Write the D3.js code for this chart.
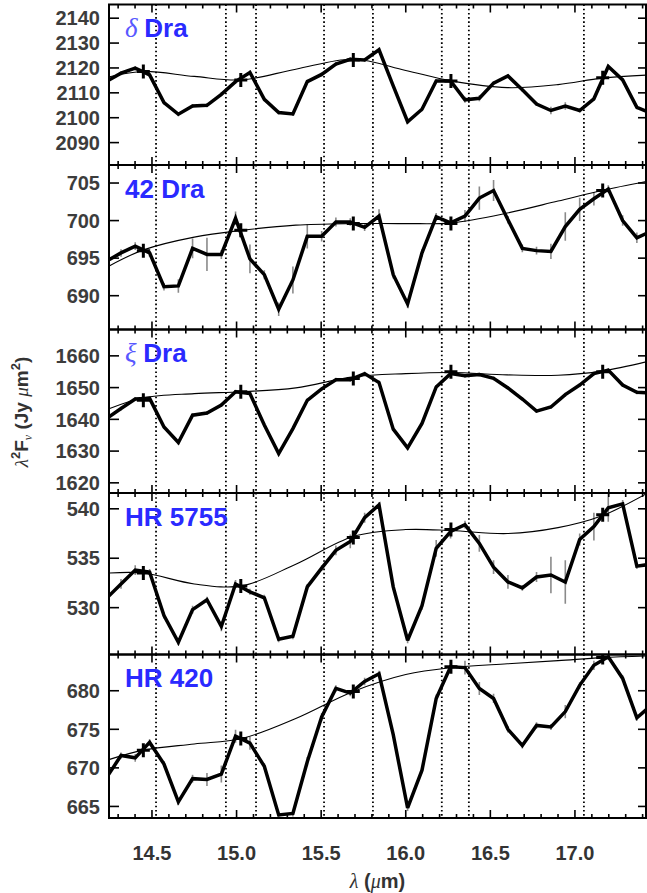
<!DOCTYPE html>
<html><head><meta charset="utf-8">
<script src="https://cdn.jsdelivr.net/npm/d3@7"></script>
<style>body{margin:0;background:#fff}</style>
</head><body>
<svg id="c" width="647" height="893" xmlns="http://www.w3.org/2000/svg"></svg>
<script>
// ---------------- data ----------------
const wavelength = [14.232,14.317,14.401,14.486,14.571,14.656,14.740,14.825,14.910,14.994,
  15.079,15.164,15.249,15.333,15.418,15.503,15.587,15.672,15.757,15.842,15.926,16.011,
  16.096,16.180,16.265,16.350,16.435,16.519,16.604,16.689,16.773,16.858,16.943,17.028,
  17.112,17.197,17.282,17.366,17.451];

const fluxDeltaDra = [2114.6,2117.9,2119.9,2117.2,2106.1,2101.4,2104.7,2105.0,2109.4,2114.5,
  2118.2,2107.4,2102.1,2101.5,2114.5,2117.4,2121.6,2123.5,2123.2,2127.3,2112.8,2098.4,
  2103.4,2114.8,2114.8,2107.2,2107.8,2113.9,2116.8,2111.2,2105.5,2102.9,2104.7,2102.9,
  2107.6,2120.6,2115.2,2104.2,2101.8];
const errDeltaDra = [0.8,0.8,0.8,0.8,0.8,0.8,0.8,0.8,0.8,0.8,0.8,0.8,0.8,0.8,0.8,0.8,0.8,0.8,
  0.8,0.8,0.8,0.8,0.8,0.8,0.8,1.2,1.2,0.8,0.8,0.8,0.8,1.5,1.5,0.8,0.8,0.8,0.8,0.8,0.8];

const flux42Dra = [694.6,695.7,696.6,695.7,691.2,691.3,696.3,695.5,695.5,700.3,694.9,692.8,
  688.2,692.1,697.9,697.9,699.8,699.8,699.1,700.6,692.8,688.9,695.7,700.5,699.7,700.6,
  703.0,704.0,700.1,696.3,696.0,695.9,699.2,701.5,702.9,704.2,700.0,697.7,698.6];
const err42Dra = [0.5,0.5,0.5,0.5,0.5,0.9,1.3,2.2,0.6,0.9,1.9,0.6,0.9,1.8,1.6,0.7,0.6,0.5,
  0.5,0.9,0.5,0.5,0.5,0.5,0.5,0.8,1.55,1.4,0.5,0.5,0.5,1.0,1.9,1.55,0.9,0.5,0.7,0.7,0.6];

const fluxXiDra = [1640.3,1643.4,1646.4,1646.6,1637.6,1632.7,1641.3,1642.0,1644.5,1648.7,
  1648.1,1638.2,1629.2,1637.1,1646.0,1649.6,1652.5,1652.5,1654.4,1651.6,1636.9,1631.0,
  1638.7,1650.2,1654.4,1653.7,1654.1,1652.9,1649.9,1646.4,1642.6,1643.9,1647.8,1650.8,
  1654.4,1655.5,1650.8,1648.5,1648.3];
const errXiDra = [0.6,0.6,0.6,0.6,0.6,0.6,0.6,0.6,0.6,0.6,0.6,0.6,0.6,0.6,0.6,0.6,0.6,0.6,
  0.6,0.6,0.6,0.6,0.6,0.6,0.6,0.6,0.6,0.6,0.6,0.6,0.6,0.6,0.6,0.6,0.6,0.6,0.6,0.6,0.6];

const fluxHR5755 = [530.95,532.4,533.8,533.6,529.2,526.5,529.8,530.8,528.1,532.4,531.6,
  531.0,526.8,527.1,532.1,534.0,535.8,536.7,539.1,540.4,532.1,526.7,530.2,536.0,537.7,
  538.4,536.5,534.1,532.6,532.0,533.1,533.3,532.6,536.9,538.2,540.1,540.5,534.2,534.4];
const errHR5755 = [0.3,0.5,0.5,0.3,0.3,0.3,0.4,0.3,0.5,0.4,0.3,0.3,0.3,0.3,0.3,0.3,0.5,0.7,
  0.5,0.3,0.3,0.3,0.4,0.85,0.7,0.4,0.85,0.7,0.7,0.3,0.5,1.85,2.2,0.6,1.4,1.4,0.4,0.3,0.3];

const fluxHR420 = [668.75,671.6,671.3,673.3,670.5,665.6,668.6,668.5,669.2,674.1,673.2,
  670.2,663.9,664.1,670.8,676.6,680.3,679.7,681.2,682.2,674.3,664.8,669.7,679.0,683.1,
  683.0,680.3,679.0,675.0,672.9,675.5,675.3,677.3,680.7,683.3,684.4,681.6,676.5,678.1];
const errHR420 = [0.4,0.4,0.5,0.4,0.4,0.4,0.5,0.85,1.1,0.85,0.85,0.4,0.4,0.4,0.6,0.5,0.4,
  0.4,0.5,0.4,0.4,0.4,0.4,0.5,0.6,0.9,0.85,0.6,0.4,0.4,0.4,0.4,0.85,0.4,0.6,0.4,0.4,0.4,0.4];

// continuum anchor points (crosses)
const crossWavelength = [14.449, 15.025, 15.690, 16.267, 17.164];
const crossDeltaDra = [2118.6, 2115.2, 2123.2, 2114.8, 2116.1];
const cross42Dra    = [696.0, 698.7, 699.6, 699.6, 704.0];
const crossXiDra    = [1646.0, 1648.7, 1652.9, 1655.0, 1655.0];
const crossHR5755   = [533.5, 532.2, 537.1, 537.9, 539.4];
const crossHR420    = [672.3, 673.8, 679.9, 683.1, 684.3];

// continuum (spline) samples
const contWavelength = [14.25, 14.45, 14.75, 15.03, 15.35, 15.69, 16.0, 16.27, 16.6, 16.9, 17.16, 17.42];
const contDeltaDra = [2116.5, 2118.6, 2116.6, 2115.2, 2119.5, 2123.5, 2119.0, 2114.8, 2112.1, 2113.3, 2115.9, 2117.1];
const cont42Dra    = [694.0, 696.1, 697.8, 698.7, 699.4, 699.6, 699.6, 699.7, 701.0, 702.6, 704.0, 705.2];
const contXiDra    = [1643.4, 1646.8, 1648.1, 1648.7, 1649.9, 1653.4, 1654.4, 1654.75, 1654.0, 1653.9, 1655.2, 1658.1];
const contHR5755   = [533.5, 533.5, 532.4, 532.2, 534.4, 537.2, 537.9, 537.8, 537.5, 538.1, 539.3, 541.5];
const contHR420    = [671.1, 672.3, 673.1, 673.8, 676.4, 679.9, 682.1, 683.0, 683.5, 683.9, 684.3, 684.5];

// marked feature wavelengths (dotted lines)
const featureWavelength = [14.524, 14.937, 15.115, 15.517, 15.806, 16.213, 16.373, 17.053];

// panel labels and axes
const labelPrefix = ["δ", "", "ξ", "", ""];
const labelMain = ["Dra", "42 Dra", "Dra", "HR 5755", "HR 420"];
const yDomainDeltaDra = [2081, 2145.5];
const yDomain42Dra = [685.5, 707.4];
const yDomainXiDra = [1616.8, 1668.3];
const yDomainHR5755 = [525.26, 541.6];
const yDomainHR420 = [663.5, 684.7];
const yTicksDeltaDra = [2090, 2100, 2110, 2120, 2130, 2140];
const yTicks42Dra = [690, 695, 700, 705];
const yTicksXiDra = [1620, 1630, 1640, 1650, 1660];
const yTicksHR5755 = [530, 535, 540];
const yTicksHR420 = [665, 670, 675, 680];
const xDomain = [14.246, 17.42];
const xMajorTicks = [14.5, 15.0, 15.5, 16.0, 16.5, 17.0];
const xMinorTicks = [14.3,14.4,14.6,14.7,14.8,14.9,15.1,15.2,15.3,15.4,15.6,15.7,15.8,15.9,
  16.1,16.2,16.3,16.4,16.6,16.7,16.8,16.9,17.1,17.2,17.3,17.4];

// ---------------- build ----------------
const panels = [
  {flux: fluxDeltaDra, err: errDeltaDra, cross: crossDeltaDra, cont: contDeltaDra, dom: yDomainDeltaDra, ticks: yTicksDeltaDra},
  {flux: flux42Dra, err: err42Dra, cross: cross42Dra, cont: cont42Dra, dom: yDomain42Dra, ticks: yTicks42Dra},
  {flux: fluxXiDra, err: errXiDra, cross: crossXiDra, cont: contXiDra, dom: yDomainXiDra, ticks: yTicksXiDra},
  {flux: fluxHR5755, err: errHR5755, cross: crossHR5755, cont: contHR5755, dom: yDomainHR5755, ticks: yTicksHR5755},
  {flux: fluxHR420, err: errHR420, cross: crossHR420, cont: contHR420, dom: yDomainHR420, ticks: yTicksHR420}
];
panels.forEach((p, i) => { p.prefix = labelPrefix[i]; p.main = labelMain[i]; });

const svg = d3.select("#c");
const L = 109, R = 646;
const panelEdges = [4.5, 165, 329.5, 493, 654.5, 818];
const x = d3.scaleLinear().domain(xDomain).range([L, R]);
const sans = "'Liberation Sans', Arial, Helvetica, sans-serif";
const serif = "'Liberation Serif', 'DejaVu Serif', serif";

panels.forEach((p, pi) => {
  const top = panelEdges[pi], bot = panelEdges[pi + 1];
  const y = d3.scaleLinear().domain(p.dom).range([bot, top]);
  const g = svg.append("g");
  const clipId = "clip" + pi;
  svg.append("clipPath").attr("id", clipId).append("rect")
    .attr("x", L).attr("y", top).attr("width", R - L).attr("height", bot - top);
  const cg = g.append("g").attr("clip-path", `url(#${clipId})`);

  // dotted feature lines
  cg.selectAll("line.feat").data(featureWavelength).enter().append("line")
    .attr("x1", d => x(d)).attr("x2", d => x(d)).attr("y1", top).attr("y2", bot)
    .attr("stroke", "#000").attr("stroke-width", 1.8).attr("stroke-dasharray", "1.6,2.6");

  // error bars
  cg.selectAll("line.err").data(wavelength).enter().append("line")
    .attr("x1", d => x(d)).attr("x2", d => x(d))
    .attr("y1", (d, i) => y(p.flux[i] - p.err[i])).attr("y2", (d, i) => y(p.flux[i] + p.err[i]))
    .attr("stroke", "#8a8a8a").attr("stroke-width", 1.6);

  // continuum
  const contLine = d3.line().x(d => x(d[0])).y(d => y(d[1])).curve(d3.curveCatmullRom.alpha(0.5));
  cg.append("path").datum(contWavelength.map((w, i) => [w, p.cont[i]]))
    .attr("d", contLine).attr("fill", "none").attr("stroke", "#000").attr("stroke-width", 1.1);

  // spectrum
  const specLine = d3.line().x(d => x(d[0])).y(d => y(d[1]));
  cg.append("path").datum(wavelength.map((w, i) => [w, p.flux[i]]))
    .attr("d", specLine).attr("fill", "none").attr("stroke", "#000")
    .attr("stroke-width", 3.5).attr("stroke-linejoin", "miter").attr("stroke-miterlimit", 3);

  // crosses
  const cr = cg.selectAll("g.cross").data(crossWavelength).enter().append("g")
    .attr("transform", (d, i) => `translate(${x(d)},${y(p.cross[i])})`);
  cr.append("line").attr("x1", -6.5).attr("x2", 6.5).attr("y1", 0).attr("y2", 0)
    .attr("stroke", "#000").attr("stroke-width", 3);
  cr.append("line").attr("x1", 0).attr("x2", 0).attr("y1", -7).attr("y2", 7)
    .attr("stroke", "#000").attr("stroke-width", 3);

  // x ticks top & bottom (inward)
  const tk = g.append("g").attr("stroke", "#000").attr("stroke-width", 1.6);
  xMajorTicks.forEach(t => {
    tk.append("line").attr("x1", x(t)).attr("x2", x(t)).attr("y1", bot).attr("y2", bot - 8);
    tk.append("line").attr("x1", x(t)).attr("x2", x(t)).attr("y1", top).attr("y2", top + 8);
  });
  xMinorTicks.forEach(t => {
    tk.append("line").attr("x1", x(t)).attr("x2", x(t)).attr("y1", bot).attr("y2", bot - 4);
    tk.append("line").attr("x1", x(t)).attr("x2", x(t)).attr("y1", top).attr("y2", top + 4);
  });
  // y ticks
  p.ticks.forEach(t => {
    tk.append("line").attr("x1", L).attr("x2", L + 10).attr("y1", y(t)).attr("y2", y(t));
    tk.append("line").attr("x1", R).attr("x2", R - 8).attr("y1", y(t)).attr("y2", y(t));
  });
  // y tick labels
  g.selectAll("text.yl").data(p.ticks).enter().append("text")
    .attr("x", 100).attr("y", d => y(d)).attr("dy", "0.36em")
    .attr("text-anchor", "end").attr("font-family", sans).attr("font-weight", "bold")
    .attr("font-size", 20).attr("fill", "#3c3c3c").text(d => d);

  // frame
  g.append("rect").attr("x", L).attr("y", top).attr("width", R - L).attr("height", bot - top)
    .attr("fill", "none").attr("stroke", "#000").attr("stroke-width", 2);

  // label
  const lab = g.append("text").attr("x", 125).attr("y", top + 32.5)
    .attr("font-size", 26).attr("fill", "#2a2aff");
  if (p.prefix) {
    lab.append("tspan").attr("font-family", serif).attr("font-style", "italic")
      .attr("fill", "#5858ff").attr("font-size", 27).text(p.prefix + " ");
  }
  lab.append("tspan").attr("font-family", sans).attr("font-weight", "bold").text(p.main);
});

// x tick labels
svg.selectAll("text.xl").data(xMajorTicks).enter().append("text")
  .attr("x", d => x(d)).attr("y", 860).attr("text-anchor", "middle")
  .attr("font-family", sans).attr("font-weight", "bold").attr("font-size", 20)
  .attr("fill", "#333").text(d => d.toFixed(1));

// x title
const xt = svg.append("text").attr("x", (L + R) / 2).attr("y", 888).attr("text-anchor", "middle")
  .attr("font-size", 20).attr("fill", "#333");
xt.append("tspan").attr("font-family", serif).attr("font-style", "italic").text("λ");
xt.append("tspan").attr("font-family", sans).attr("font-weight", "bold").text(" (");
xt.append("tspan").attr("font-family", serif).attr("font-style", "italic").text("μ");
xt.append("tspan").attr("font-family", sans).attr("font-weight", "bold").text("m)");

// y title
const yt = svg.append("text").attr("transform", "translate(28,412) rotate(-90)")
  .attr("text-anchor", "middle").attr("font-size", 19).attr("fill", "#333");
yt.append("tspan").attr("font-family", serif).attr("font-style", "italic").text("λ");
yt.append("tspan").attr("font-family", sans).attr("font-weight", "bold").attr("font-size", 13).attr("dy", -8).text("2");
yt.append("tspan").attr("font-family", sans).attr("font-weight", "bold").attr("dy", 8).text("F");
yt.append("tspan").attr("font-family", serif).attr("font-style", "italic").attr("font-size", 12).attr("dy", 4).text("ν");
yt.append("tspan").attr("font-family", sans).attr("font-weight", "bold").attr("dy", -4).text(" (Jy ");
yt.append("tspan").attr("font-family", serif).attr("font-style", "italic").text("μ");
yt.append("tspan").attr("font-family", sans).attr("font-weight", "bold").text("m");
yt.append("tspan").attr("font-family", sans).attr("font-weight", "bold").attr("font-size", 13).attr("dy", -8).text("2");
yt.append("tspan").attr("font-family", sans).attr("font-weight", "bold").attr("dy", 8).text(")");
</script>
</body></html>
